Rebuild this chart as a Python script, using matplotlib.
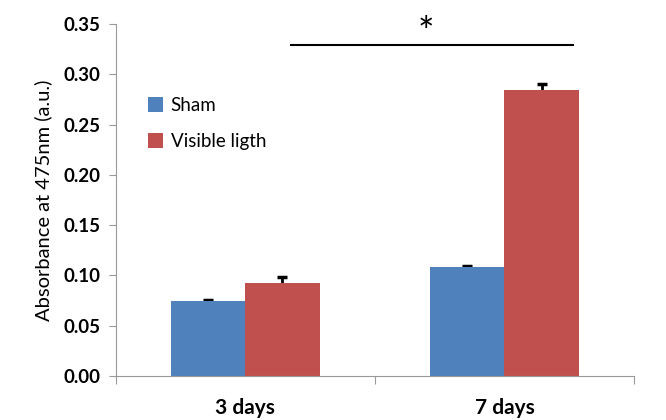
import numpy as np
import matplotlib.pyplot as plt

plt.rcParams['font.family'] = ['Lato', 'DejaVu Sans']

categories = ['3 days', '7 days']
sham = [0.074, 0.108]
sham_err = [0.001, 0.001]
light = [0.092, 0.284]
light_err = [0.006, 0.006]
yticks = [0.00, 0.05, 0.10, 0.15, 0.20, 0.25, 0.30, 0.35]

fig = plt.figure(figsize=(6.66, 4.2), dpi=100)
ax = fig.add_axes([0.174, 0.105, 0.778, 0.838])

x = np.arange(len(categories)) + 0.5
w = 0.286
ax.bar(x - w / 2, sham, w, color='#4F81BD', label='Sham', zorder=2)
ax.bar(x + w / 2, light, w, color='#C0504D', label='Visible ligth', zorder=2)
# error bars drawn behind bars so only the upper half shows
ax.errorbar(x - w / 2, sham, yerr=sham_err, fmt='none', ecolor='black',
            capsize=3.5, capthick=2.5, elinewidth=2, zorder=1)
ax.errorbar(x + w / 2, light, yerr=light_err, fmt='none', ecolor='black',
            capsize=3.5, capthick=2.5, elinewidth=2, zorder=1)

# significance bar
ax.plot([0.676, 1.765], [0.329, 0.329], color='black', lw=1.5, clip_on=False)
ax.text(1.197, 0.322, '*', ha='center', va='bottom', fontsize=28, clip_on=False)

ax.set_xlim(0, 2)
ax.set_ylim(0, 0.35)
ax.set_yticks(yticks)
ax.set_yticklabels(['%.2f' % v for v in yticks], fontweight='bold', fontsize=13.5)
ax.set_xticks([0, 1, 2])
ax.set_xticklabels([])
ax.set_xticks(x, minor=True)
ax.set_xticklabels(categories, minor=True, fontweight='bold', fontsize=15)
ax.tick_params(axis='x', which='minor', length=0, pad=16)
ax.tick_params(axis='x', which='major', length=6, color='#999999')
ax.tick_params(axis='y', length=5, color='#999999', pad=6)
ax.set_ylabel('Absorbance at 475nm (a.u.)', fontsize=14.5, labelpad=8)

for s in ['top', 'right']:
    ax.spines[s].set_visible(False)
for s in ['left', 'bottom']:
    ax.spines[s].set_color('#999999')

ax.legend(loc='upper left', bbox_to_anchor=(0.03, 0.84), frameon=False, fontsize=13.5,
          handlelength=0.8, handleheight=0.8, labelspacing=1.0, handletextpad=0.4)

fig.savefig('out.png', dpi=100)
